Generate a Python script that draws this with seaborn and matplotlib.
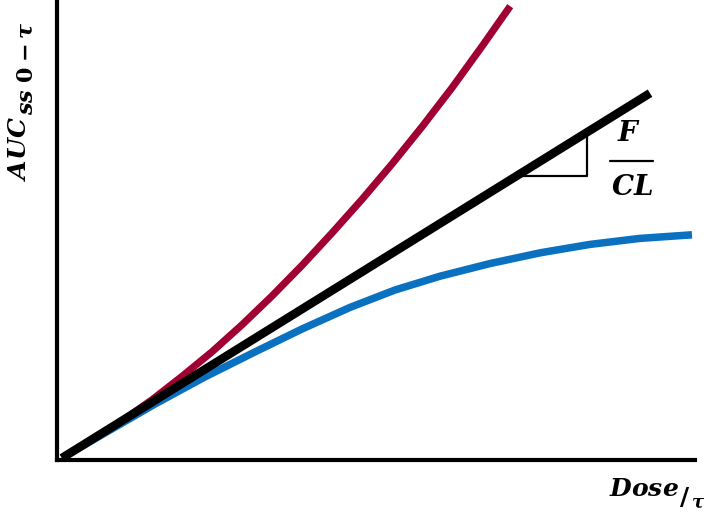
import numpy as np
import pandas as pd
import seaborn as sns
import matplotlib
matplotlib.use("Agg")
import matplotlib.pyplot as plt

# values (arbitrary units)
dose_linear = [0.0, 9.80]
auc_linear = [0.0, 6.08]

dose_red = [0.0, 0.5, 1.0, 1.5, 2.0, 2.5, 3.0, 3.5, 4.0, 4.5, 5.0, 5.5, 6.0, 6.5, 7.0, 7.47]
auc_red = [0.0, 0.30, 0.62, 0.97, 1.36, 1.77, 2.22, 2.70, 3.21, 3.75, 4.31, 4.90, 5.52, 6.17, 6.86, 7.53]

dose_blue = [0.0, 0.72, 1.55, 2.38, 3.22, 4.0, 4.8, 5.55, 6.3, 7.13, 7.97, 8.8, 9.63, 10.5]
auc_blue = [0.0, 0.42, 0.90, 1.35, 1.77, 2.15, 2.51, 2.80, 3.03, 3.24, 3.42, 3.56, 3.66, 3.72]

red = "#A00032"
blue = "#0A70C0"

sns.set_style("white")
plt.rcParams["mathtext.fontset"] = "custom"
plt.rcParams["mathtext.rm"] = "DejaVu Serif:bold"
plt.rcParams["mathtext.it"] = "DejaVu Serif:italic:bold"
plt.rcParams["mathtext.bf"] = "DejaVu Serif:bold"
plt.rcParams["text.color"] = "black"

fig = plt.figure(figsize=(7.09, 5.13), dpi=100)
ax = fig.add_axes([57 / 709, 53 / 513, 638 / 709, 460 / 513])

line_kw = dict(solid_capstyle="butt", solid_joinstyle="round", sort=False, ax=ax)
sns.lineplot(x=dose_red, y=auc_red, color=red, lw=5.2, **line_kw)
sns.lineplot(x=dose_blue, y=auc_blue, color=blue, lw=5.4, **line_kw)
sns.lineplot(x=dose_linear, y=auc_linear, color="black", lw=6.2, **line_kw)

# slope triangle on the linear line
slope = auc_linear[1] / dose_linear[1]
tri_y = 4.70
tri_x0 = tri_y / slope
tri_x1 = 8.75
ax.plot([tri_x0, tri_x1, tri_x1], [tri_y, tri_y, tri_x1 * slope],
        color="black", lw=1.6, solid_capstyle="butt")

# F / CL fraction
ax.text(9.45, 5.42, r"$F$", fontsize=20, ha="center", va="center")
ax.plot([9.13, 9.85], [4.95, 4.95], color="black", lw=1.6)
ax.text(9.50, 4.52, r"$CL$", fontsize=20, ha="center", va="center")

ax.set_xlim(-0.083, 10.55)
ax.set_ylim(-0.033, 7.633)
ax.set_xticks([])
ax.set_yticks([])
ax.set_xlabel("")
ax.set_ylabel("")
for side in ["top", "right"]:
    ax.spines[side].set_visible(False)
for side in ["left", "bottom"]:
    ax.spines[side].set_linewidth(3.0)
    ax.spines[side].set_color("black")

# y label, main part and subscript
lab_kw = dict(rotation=90, rotation_mode="anchor", ha="center", va="baseline")
fig.text(26 / 709, 1 - 149 / 513, r"$AUC$", fontsize=18, **lab_kw)
fig.text(33 / 709, 1 - 68 / 513, r"$ss\ 0-\tau$", fontsize=16, **lab_kw)

# x label
fig.text(644 / 709, 1 - 489 / 513, r"$Dose$", fontsize=18,
         ha="center", va="center")
fig.text(685 / 709, 1 - 498 / 513, r"$/$", fontsize=18,
         ha="center", va="center")
fig.text(698 / 709, 1 - 503 / 513, r"$\tau$", fontsize=13,
         ha="center", va="center")

fig.savefig("out.png", dpi=100)
